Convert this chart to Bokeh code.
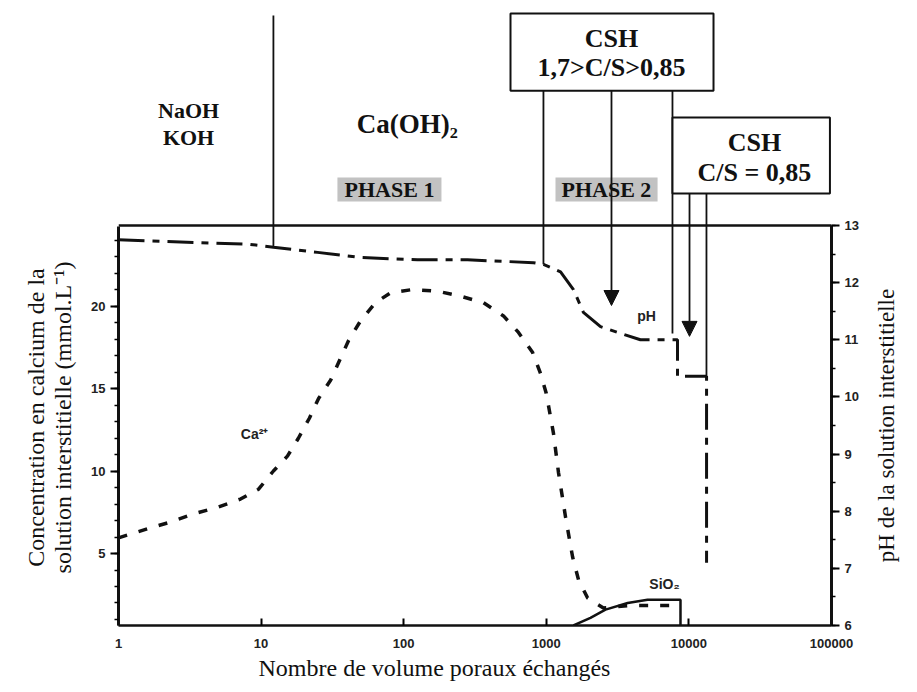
import math
from bokeh.plotting import figure
from bokeh.layouts import row
from bokeh.models import (Range1d, LinearAxis, SingleIntervalTicker, FixedTicker,
                          PrintfTickFormatter, Arrow, NormalHead)
from bokeh.core.properties import value
from bokeh.embed import file_html
from bokeh.resources import INLINE

# ---------------- data ----------------
# pH of the interstitial solution (right axis)
ph_x = [1, 8.4, 12.2, 24.9, 49.8, 125, 280, 813, 955, 1259, 1550, 1820, 2400,
        3160, 4570, 8320, 8320, 13300, 13300]
ph_y = [12.75, 12.67, 12.62, 12.53, 12.44, 12.40, 12.40, 12.35, 12.32, 12.19,
        11.88, 11.48, 11.23, 11.13, 11.0, 11.0, 10.36, 10.36, 7.1]

# Ca2+ concentration (left axis, mmol/L)
ca_x = [1.0, 1.6, 2.3, 3.36, 4.94, 7.17, 9.6, 12.2, 15.3, 18.3, 21.8, 25.3, 30.7,
        41, 49.8, 63.3, 80.7, 115, 173, 250, 363, 501, 638, 800, 912, 1000, 1122,
        1218, 1365, 1528, 1683, 1950, 2515, 3890, 6030, 8500]
ca_y = [5.95, 6.5, 6.9, 7.4, 7.8, 8.3, 8.9, 10.0, 10.9, 12.0, 13.2, 14.4, 15.5,
        17.9, 19.1, 20.2, 20.8, 21.0, 20.9, 20.6, 20.2, 19.4, 18.4, 17.2, 15.9,
        14.7, 12.3, 9.9, 7.2, 4.8, 3.4, 2.3, 1.7, 1.85, 1.85, 1.85]

# SiO2 concentration (left axis)
si_x = [1550, 2040, 2600, 3720, 5130, 8730, 8730]
si_y = [0.64, 1.1, 1.6, 2.0, 2.2, 2.2, 0.64]

x_ticks = [1, 10, 100, 1000, 10000, 100000]

# ---------------- axis extents ----------------
CA_LOW, CA_AXIS_TOP, CA_RANGE_TOP = 0.636, 24.82, 38.52
PH_LOW, PH_AXIS_TOP, PH_RANGE_TOP = 6, 13, 16.938   # range runs up into the annotation band

# ---------------- annotations (positions in x / pH units) ----------------
seg_x = [12.2, 955, 7670, 13280]
seg_top = [16.675, 15.36, 15.36, 13.56]
seg_bot = [12.615, 12.32, 11.11, 10.375]
arrow_x = [2865, 10100]
arrow_top = [15.36, 13.56]
arrow_tip = [11.60, 11.06]

LEFT_W, MAIN_W, SIDE_W, H = 88, 774, 55, 692
BOTTOM = 67


def strip(width):
    f = figure(width=width, height=H, x_range=Range1d(0, width),
               y_range=Range1d(PH_LOW, PH_RANGE_TOP), output_backend="svg",
               toolbar_location=None, x_axis_location=None, y_axis_location=None,
               min_border_left=0, min_border_right=0, min_border_top=0,
               min_border_bottom=BOTTOM)
    f.title = None
    f.xgrid.visible = False
    f.ygrid.visible = False
    f.outline_line_color = None
    f.background_fill_color = "white"
    f.border_fill_color = "white"
    return f


# ======== left title strip (two lines, reading bottom to top) ========
left = strip(LEFT_W)
left.text(x=[35, 62], y=[9.64, 9.64],
          text=["Concentration en calcium de la", "solution interstitielle (mmol.L⁻¹)"],
          angle=math.pi / 2, text_font=value("Liberation Serif"),
          text_font_size="24px", text_align="center", text_baseline="middle",
          text_color="#111")

# ======== right title strip ========
side = strip(SIDE_W)
side.text(x=[24], y=[9.5], text=["pH de la solution interstitielle"],
          angle=math.pi / 2, text_font=value("Liberation Serif"),
          text_font_size="23px", text_align="center", text_baseline="middle",
          text_color="#111")

# ======== main chart (frame also covers the annotation band above it) ========
p = figure(width=MAIN_W, height=H, x_axis_type="log",
           x_range=Range1d(1, 1e5), y_range=Range1d(CA_LOW, CA_RANGE_TOP),
           output_backend="svg", toolbar_location=None,
           title="Nombre de volume poraux échangés", title_location="below",
           min_border_left=30, min_border_right=31,
           min_border_top=0, min_border_bottom=BOTTOM)
p.extra_y_ranges = {"ph": Range1d(PH_LOW, PH_RANGE_TOP)}
p.xgrid.visible = False
p.ygrid.visible = False
p.outline_line_color = None
p.background_fill_color = "white"
p.border_fill_color = "white"

p.title.text_font = "Liberation Serif"
p.title.text_font_style = "normal"
p.title.text_font_size = "24px"
p.title.text_color = "#111"
p.title.align = "left"
p.title.offset = 140
p.title.standoff = 4

TICK_FONT = "Liberation Sans"
TICK_SIZE = "13px"

# x axis
xa = p.xaxis[0]
xa.ticker = FixedTicker(ticks=x_ticks)
xa.formatter = PrintfTickFormatter(format="%d")
xa.axis_line_width = 2.5
xa.axis_line_color = "#111"
xa.major_tick_in = 7
xa.major_tick_out = 0
xa.minor_tick_in = 0
xa.minor_tick_out = 0
xa.major_tick_line_width = 2
xa.major_label_text_font = TICK_FONT
xa.major_label_text_font_size = TICK_SIZE
xa.major_label_text_font_style = "bold"
xa.major_label_text_color = "#222"
xa.major_label_standoff = 13

# left axis (Ca)
ya = p.yaxis[0]
ya.ticker = SingleIntervalTicker(interval=5, num_minor_ticks=5)
ya.bounds = (CA_LOW, CA_AXIS_TOP)
ya.axis_line_width = 3
ya.axis_line_color = "#111"
ya.major_tick_out = 8
ya.major_tick_in = 0
ya.minor_tick_out = 4
ya.minor_tick_in = 0
ya.major_tick_line_width = 2
ya.minor_tick_line_width = 1.5
ya.major_label_text_font = TICK_FONT
ya.major_label_text_font_size = TICK_SIZE
ya.major_label_text_font_style = "bold"
ya.major_label_text_color = "#222"
ya.major_label_standoff = 5

# right axis (pH)
ra = LinearAxis(y_range_name="ph", bounds=(PH_LOW, PH_AXIS_TOP),
                ticker=SingleIntervalTicker(interval=1, num_minor_ticks=2))
ra.axis_line_width = 3
ra.axis_line_color = "#111"
ra.major_tick_out = 8
ra.major_tick_in = 0
ra.minor_tick_out = 4
ra.minor_tick_in = 0
ra.major_tick_line_width = 2
ra.minor_tick_line_width = 1.5
ra.major_label_text_font = TICK_FONT
ra.major_label_text_font_size = TICK_SIZE
ra.major_label_text_font_style = "bold"
ra.major_label_text_color = "#222"
ra.major_label_standoff = 5
p.add_layout(ra, "right")

# top border of the chart box
p.segment(x0=[x_ticks[0]], x1=[x_ticks[-1]], y0=[PH_AXIS_TOP], y1=[PH_AXIS_TOP],
          y_range_name="ph", line_width=2.5, line_color="#111")

# curves
p.line(ca_x, ca_y, line_width=3.5, line_color="#111", line_dash="9 12")
p.line(si_x, si_y, line_width=2.5, line_color="#111")
p.line(ph_x, ph_y, y_range_name="ph", line_width=3, line_color="#111",
       line_dash="26 8 7 8")

# leader lines and arrows
p.segment(x0=seg_x, x1=seg_x, y0=seg_top, y1=seg_bot, y_range_name="ph",
          line_width=1.8, line_color="#111")
for ax_, at, ab in zip(arrow_x, arrow_top, arrow_tip):
    p.add_layout(Arrow(end=NormalHead(size=15, fill_color="#111", line_color="#111",
                                      line_width=1),
                       x_start=ax_, y_start=at, x_end=ax_, y_end=ab,
                       y_range_name="ph", line_width=1.8, line_color="#111"))

# CSH boxes
p.quad(left=[561, 7670], right=[14880, 97500], bottom=[15.36, 13.56],
       top=[16.71, 14.89], y_range_name="ph", fill_color="white",
       line_color="#111", line_width=2)
# grey PHASE boxes
p.quad(left=[34.3, 1160], right=[184, 6030], bottom=[13.42, 13.42],
       top=[13.84, 13.84], y_range_name="ph", fill_color="#c2c2c2",
       line_color=None)


def serif_text(xs, ys, texts, size):
    p.text(x=xs, y=ys, text=texts, y_range_name="ph",
           text_font=value("Liberation Serif"), text_font_style="bold",
           text_font_size=size, text_align="center", text_baseline="middle",
           text_color="#111")


serif_text([3.1, 3.1], [15.01, 14.54], ["NaOH", "KOH"], "22px")
serif_text([106], [14.785], ["Ca(OH)₂"], "27px")
serif_text([2865, 2865], [16.27, 15.77], ["CSH", "1,7>C/S>0,85"], "26px")
serif_text([28800, 28800], [14.45, 13.93], ["CSH", "C/S = 0,85"], "26px")
serif_text([79.5, 2640], [13.63, 13.63], ["PHASE 1", "PHASE 2"], "22px")

p.text(x=[9.0, 5040, 6740], y=[9.36, 11.425, 6.735], text=["Ca²⁺", "pH", "SiO₂"],
       y_range_name="ph", text_font=value("Liberation Sans"), text_font_style="bold",
       text_font_size="14px", text_align="center", text_baseline="middle",
       text_color="#222")

layout = row(left, p, side, spacing=0)
open("out.html", "w").write(file_html(layout, INLINE))
